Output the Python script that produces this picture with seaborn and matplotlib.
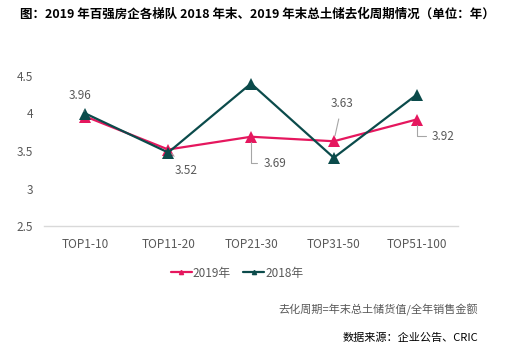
import numpy as np
import pandas as pd
import matplotlib
matplotlib.use("Agg")
import matplotlib.pyplot as plt
import seaborn as sns
from matplotlib.lines import Line2D

categories = ["TOP1-10", "TOP11-20", "TOP21-30", "TOP31-50", "TOP51-100"]
values_2019 = [3.96, 3.52, 3.69, 3.63, 3.92]
values_2018 = [4.00, 3.48, 4.40, 3.41, 4.25]
series_names = ["2019年", "2018年"]
label_texts = ["3.96", "3.52", "3.69", "3.63", "3.92"]

sns.set_theme(style="white")
plt.rcParams['font.family'] = ['Noto Sans CJK SC', 'DejaVu Sans']

PINK = "#E5175E"
TEAL = "#0B4B4B"
GREY = "#595959"

df = pd.DataFrame({
    "cat": categories * 2,
    "val": values_2019 + values_2018,
    "series": [series_names[0]] * 5 + [series_names[1]] * 5,
})

fig = plt.figure(figsize=(5.15, 3.54), dpi=100)
ax = fig.add_axes([44 / 515, 1 - 226 / 354, 414 / 515, 150 / 354])

sns.lineplot(data=df, x="cat", y="val", hue="series", hue_order=series_names,
             palette=[PINK, TEAL], marker="^", markersize=8, markeredgewidth=0,
             linewidth=1.6, ax=ax, legend=False, sort=False)

ax.set_xlim(-0.5, 4.5)
ax.set_ylim(2.5, 4.5)
ax.set_yticks([2.5, 3, 3.5, 4, 4.5])
ax.set_yticklabels(["2.5", "3", "3.5", "4", "4.5"])
ax.set_xlabel("")
ax.set_ylabel("")
for s in ["top", "right", "left"]:
    ax.spines[s].set_visible(False)
ax.spines["bottom"].set_color("#D9D9D9")
ax.spines["bottom"].set_linewidth(1)
ax.tick_params(axis="both", length=0, labelsize=8.5, colors=GREY)
ax.tick_params(axis="x", pad=9)
ax.tick_params(axis="y", pad=8)

# data labels with leader lines (offsets in points)
offsets = [(-4, 15), (13, -15), (9, -19), (6, 27), (11, -12)]
aligns = ["center", "center", "left", "center", "left"]
elbow = [False, False, True, False, True]
for i, t in enumerate(label_texts):
    conn = "angle,angleA=0,angleB=90,rad=0" if elbow[i] else "arc3"
    ax.annotate(t, xy=(i, values_2019[i]), xytext=offsets[i], textcoords="offset points",
                fontsize=8.5, color=GREY, ha=aligns[i], va="center",
                arrowprops=dict(arrowstyle="-", color="#A6A6A6", lw=0.8,
                                shrinkA=4 if not elbow[i] else 2, shrinkB=4,
                                connectionstyle=conn))

# legend
handles = [Line2D([0], [0], color=PINK, lw=1.6, marker="^", markersize=3),
           Line2D([0], [0], color=TEAL, lw=1.6, marker="^", markersize=3)]
fig.legend(handles, series_names, loc="center", bbox_to_anchor=(237 / 515, 1 - 273 / 354),
           ncol=2, frameon=False, fontsize=8.5, handlelength=1.8, handletextpad=0.1,
           columnspacing=1.0, labelcolor=GREY)

fig.text(0.5, 1 - 14 / 354, "图：2019 年百强房企各梯队 2018 年末、2019 年末总土储去化周期情况（单位：年）",
         ha="center", va="center", fontsize=9, fontweight="bold", color="black")
fig.text(478 / 515, 1 - 310 / 354, "去化周期=年末总土储货值/全年销售金额",
         ha="right", va="center", fontsize=8, color=GREY)
fig.text(478 / 515, 1 - 338 / 354, "数据来源：企业公告、CRIC",
         ha="right", va="center", fontsize=8, color="black")

fig.savefig("out.png", dpi=100)
